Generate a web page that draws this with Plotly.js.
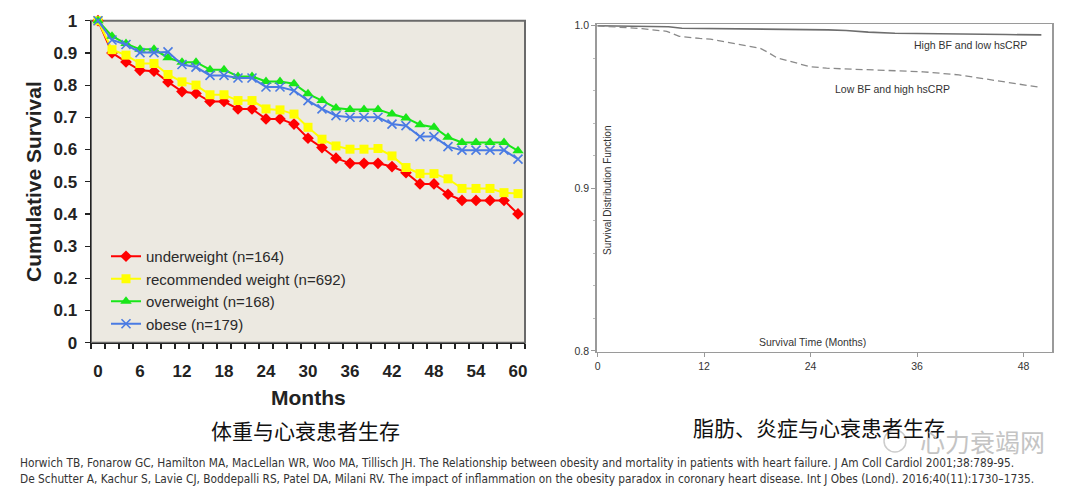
<!DOCTYPE html>
<html>
<head>
<meta charset="utf-8">
<script src="https://cdn.plot.ly/plotly-3.0.1.min.js"></script>
<style>
  html, body { margin: 0; padding: 0; background: #ffffff; }
  #chart { width: 1080px; height: 491px; }
</style>
</head>
<body>
<div id="chart"></div>
<script>
// ---------- Left chart: BMI groups (Horwich 2001) ----------
const months = [0, 2, 4, 6, 8, 10, 12, 14, 16, 18, 20, 22, 24, 26, 28, 30, 32, 34, 36, 38, 40, 42, 44, 46, 48, 50, 52, 54, 56, 58, 60];
const monthTickVals = [0, 6, 12, 18, 24, 30, 36, 42, 48, 54, 60];
const underweight = [1.0, 0.90, 0.872, 0.846, 0.843, 0.81, 0.78, 0.774, 0.749, 0.749, 0.726, 0.726, 0.695, 0.695, 0.679, 0.635, 0.606, 0.573, 0.557, 0.557, 0.557, 0.547, 0.528, 0.493, 0.493, 0.461, 0.442, 0.442, 0.442, 0.442, 0.40];
const recommended = [1.0, 0.91, 0.893, 0.867, 0.867, 0.833, 0.81, 0.80, 0.77, 0.77, 0.752, 0.752, 0.726, 0.723, 0.71, 0.669, 0.632, 0.611, 0.601, 0.601, 0.603, 0.58, 0.544, 0.525, 0.525, 0.509, 0.479, 0.479, 0.479, 0.466, 0.463];
const overweight = [1.0, 0.952, 0.929, 0.911, 0.911, 0.885, 0.871, 0.871, 0.848, 0.848, 0.827, 0.827, 0.811, 0.811, 0.804, 0.773, 0.752, 0.729, 0.724, 0.724, 0.724, 0.71, 0.698, 0.677, 0.669, 0.638, 0.622, 0.622, 0.622, 0.622, 0.596];
const obese = [1.0, 0.94, 0.926, 0.901, 0.901, 0.903, 0.864, 0.856, 0.83, 0.83, 0.822, 0.822, 0.794, 0.794, 0.783, 0.752, 0.726, 0.705, 0.70, 0.70, 0.70, 0.679, 0.674, 0.64, 0.64, 0.609, 0.598, 0.598, 0.598, 0.598, 0.57];
const leftNames = ["underweight (n=164)", "recommended weight (n=692)", "overweight (n=168)", "obese (n=179)"];

// ---------- Right chart: body fat & hsCRP (De Schutter 2016) ----------
const highBFTime = [0, 4, 8, 9.5, 15, 22, 26, 28, 30.5, 33.5, 38, 42, 46, 50];
const highBFSurv = [1.0, 0.9997, 0.9994, 0.9985, 0.9983, 0.9979, 0.9975, 0.9971, 0.9961, 0.9954, 0.995, 0.9948, 0.9946, 0.9944];
const lowBFTime = [0, 2.5, 5, 7.8, 8.5, 9.2, 11.5, 12.7, 18.3, 19.1, 20.2, 22, 23.9, 25.8, 30, 33.3, 36.7, 40.7, 44.4, 47, 50];
const lowBFSurv = [1.0, 0.999, 0.9982, 0.9966, 0.995, 0.9935, 0.9922, 0.9918, 0.9862, 0.984, 0.9803, 0.9775, 0.9749, 0.9739, 0.973, 0.9724, 0.9717, 0.9698, 0.9667, 0.9645, 0.962];
const rightTickVals = [0, 12, 24, 36, 48];
const rightYTickVals = [0.8, 0.9, 1.0];
const rightLabels = ["High BF and low hsCRP", "Low BF and high hsCRP"];

// ---------- Texts ----------
const captionLeft = "体重与心衰患者生存";
const captionRight = "脂肪、炎症与心衰患者生存";
const watermark = "心力衰竭网";
const ref1 = "Horwich TB, Fonarow GC, Hamilton MA, MacLellan WR, Woo MA, Tillisch JH. The Relationship between obesity and mortality in patients with heart failure. J Am Coll Cardiol 2001;38:789-95.";
const ref2 = "De Schutter A, Kachur S, Lavie CJ, Boddepalli RS, Patel DA, Milani RV. The impact of inflammation on the obesity paradox in coronary heart disease. Int J Obes (Lond). 2016;40(11):1730\u20131735.";

const W = 1080, H = 491;
const px = v => v / W;
const py = v => 1 - v / H;

const sans = "Liberation Sans, Arial, sans-serif";
const cjk = "Noto Sans CJK SC, sans-serif";
const refFont = "DejaVu Sans Condensed, Liberation Sans, sans-serif";

function label(text, x, y, font, extra) {
  return Object.assign({ text: text, xref: "paper", yref: "paper", x: px(x), y: py(y),
    xanchor: "center", yanchor: "middle", showarrow: false, font: font }, extra || {});
}

const lineW = 2;
const traces = [
  { x: months, y: underweight, name: leftNames[0], type: "scatter", mode: "lines+markers",
    line: { color: "#FF0000", width: lineW }, marker: { symbol: "diamond", size: 9, color: "#FF0000" },
    cliponaxis: false, xaxis: "x", yaxis: "y" },
  { x: months, y: recommended, name: leftNames[1], type: "scatter", mode: "lines+markers",
    line: { color: "#FFFF00", width: lineW }, marker: { symbol: "square", size: 9, color: "#FFFF00" },
    cliponaxis: false, xaxis: "x", yaxis: "y" },
  { x: months, y: overweight, name: leftNames[2], type: "scatter", mode: "lines+markers",
    line: { color: "#19E619", width: lineW }, marker: { symbol: "triangle-up", size: 10, color: "#19E619" },
    cliponaxis: false, xaxis: "x", yaxis: "y" },
  { x: months, y: obese, name: leftNames[3], type: "scatter", mode: "lines+markers",
    line: { color: "#4A7BE3", width: lineW }, marker: { symbol: "x-thin-open", size: 9, color: "#4A7BE3", line: { color: "#4A7BE3", width: 1.6 } },
    cliponaxis: false, xaxis: "x", yaxis: "y" },
  { x: highBFTime, y: highBFSurv, name: rightLabels[0], type: "scatter", mode: "lines",
    line: { color: "#6e6e6e", width: 1.6 }, showlegend: false, xaxis: "x2", yaxis: "y2" },
  { x: lowBFTime, y: lowBFSurv, name: rightLabels[1], type: "scatter", mode: "lines",
    line: { color: "#8a8a8a", width: 1.3, dash: "7px,4px" }, showlegend: false, xaxis: "x2", yaxis: "y2" }
];

const layout = {
  width: W, height: H,
  margin: { l: 0, r: 0, t: 0, b: 0 },
  paper_bgcolor: "#ffffff",
  plot_bgcolor: "rgba(0,0,0,0)",
  font: { family: sans, color: "#222" },
  showlegend: true,
  legend: {
    x: px(106), y: py(240), xanchor: "left", yanchor: "top",
    bgcolor: "rgba(0,0,0,0)", borderwidth: 0,
    font: { family: sans, size: 15, color: "#2a2a2a" },
    tracegroupgap: 0, itemwidth: 30
  },
  xaxis: {
    domain: [px(91), px(525)], anchor: "y", range: [-1, 61],
    tickmode: "array", tickvals: monthTickVals, ticks: "", ticklabelstandoff: 12,
    tickfont: { family: sans, size: 17, color: "#222", weight: "bold" },
    showline: true, linecolor: "#222", linewidth: 1.5, showgrid: false, zeroline: false,
    minor: { tickmode: "linear", tick0: -1, dtick: 2, ticks: "outside", ticklen: 5, tickcolor: "#222", tickwidth: 1.2, showgrid: false }
  },
  yaxis: {
    domain: [py(342.7), py(20.7)], anchor: "x", range: [0, 1],
    tickmode: "linear", tick0: 0, dtick: 0.1, ticks: "outside", ticklen: 5, tickcolor: "#222", tickwidth: 1.2,
    ticklabelstandoff: 4,
    tickfont: { family: sans, size: 17, color: "#222", weight: "bold" },
    showline: true, linecolor: "#222", linewidth: 1.5, showgrid: false, zeroline: false
  },
  xaxis2: {
    domain: [px(596.7), px(1052)], anchor: "y2", range: [-0.1, 51.2],
    tickmode: "array", tickvals: rightTickVals, ticks: "outside", ticklen: 4, tickcolor: "#999",
    tickfont: { family: sans, size: 10.5, color: "#333" },
    showline: true, linecolor: "#9a9a9a", linewidth: 1.5, mirror: true, showgrid: false, zeroline: false
  },
  yaxis2: {
    domain: [py(351.7), py(24)], anchor: "x2", range: [0.7995, 1.0011],
    tickmode: "array", tickvals: rightYTickVals, tickformat: ".1f", ticks: "outside", ticklen: 4, tickcolor: "#999",
    tickfont: { family: sans, size: 10.5, color: "#333" },
    showline: true, linecolor: "#9a9a9a", linewidth: 1.5, mirror: true, showgrid: false, zeroline: false,
    minor: { tickmode: "linear", tick0: 0.8, dtick: 0.02, ticks: "outside", ticklen: 2, tickcolor: "#bbb", showgrid: false }
  },
  shapes: [
    { type: "rect", xref: "x domain", yref: "y domain", x0: 0, x1: 1, y0: 0, y1: 1,
      fillcolor: "#ECE9E1", line: { color: "#6a6a6a", width: 2 }, layer: "below" },
    { type: "circle", xref: "paper", yref: "paper", x0: px(884), x1: px(906), y0: py(452), y1: py(430),
      line: { color: "#cccccc", width: 1.5 }, fillcolor: "rgba(0,0,0,0)" }
  ],
  annotations: [
    label("Cumulative Survival", 33, 182, { family: sans, size: 21, color: "#222", weight: "bold" }, { textangle: -90 }),
    label("Months", 308, 397, { family: sans, size: 21, color: "#222", weight: "bold" }),
    label("Survival Distribution Function", 608, 190, { family: sans, size: 10, color: "#333" }, { textangle: -90 }),
    label("Survival Time (Months)", 812, 342, { family: sans, size: 10.5, color: "#333" }),
    label(rightLabels[0], 970, 44.5, { family: sans, size: 10.5, color: "#333" }),
    label(rightLabels[1], 892, 88.5, { family: sans, size: 10.5, color: "#333" }),
    label(captionLeft, 305, 430, { family: cjk, size: 21, color: "#111" }),
    label(captionRight, 819, 427, { family: cjk, size: 21, color: "#111" }),
    label(watermark, 982, 441, { family: cjk, size: 25, color: "#c4c4c4" }),
    label(ref1, 18, 463, { family: refFont, size: 11.8, color: "#333" }, { xanchor: "left" }),
    label(ref2, 18, 479, { family: refFont, size: 11.8, color: "#333" }, { xanchor: "left" })
  ]
};

Plotly.newPlot("chart", traces, layout, { displayModeBar: false, staticPlot: true });
</script>
</body>
</html>
